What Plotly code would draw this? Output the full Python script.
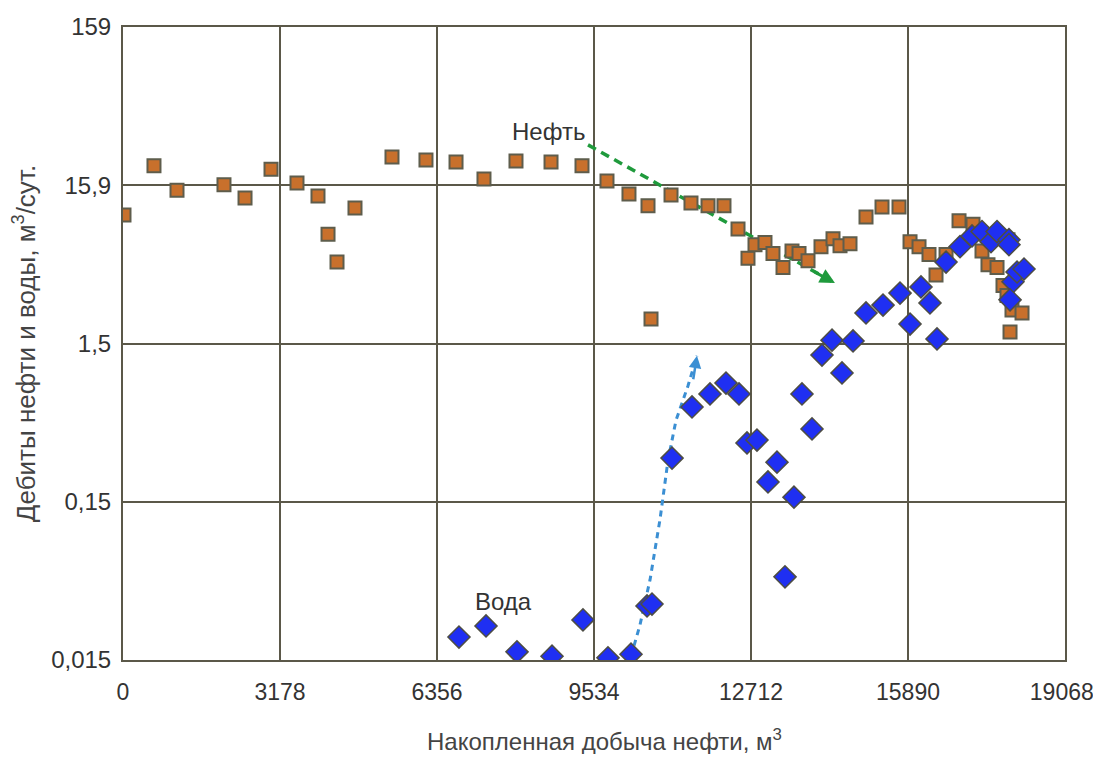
import numpy as np
import plotly.graph_objects as go

# Oil (Нефть) — cumulative production, m3 / rate, m3/day
oil_x = [20, 627, 1093, 2044, 2470, 2996, 3522, 3947, 4150, 4332, 4696, 5445, 6133, 6741,
         7307, 7955, 8664, 9291, 9797, 10242, 10627, 10688, 11093, 11497, 11842, 12165,
         12449, 12651, 12793, 12995, 13157, 13360, 13542, 13684, 13866, 14129, 14372,
         14514, 14716, 15040, 15364, 15708, 15931, 16113, 16315, 16457, 16660, 16923,
         17206, 17388, 17509, 17692, 17914, 17813, 17894, 17955, 17995, 18198]
oil_y = [10.3, 21.1, 14.8, 16.0, 13.2, 20.1, 16.4, 13.6, 7.8, 5.2, 11.4, 24.0, 23.0, 22.3,
         17.4, 22.6, 22.3, 21.1, 16.9, 14.0, 11.8, 2.27, 13.8, 12.3, 11.8, 11.8,
         8.4, 5.5, 6.7, 6.9, 5.9, 4.8, 6.1, 5.9, 5.3, 6.5, 7.3,
         6.6, 6.8, 10.0, 11.6, 11.6, 7.0, 6.5, 5.8, 4.3, 5.8, 9.5,
         9.0, 6.1, 5.0, 4.8, 7.2, 3.7, 3.2, 1.88, 2.59, 2.48]

# Water (Вода)
water_x = [6801, 7348, 7975, 8684, 9311, 9817, 10283, 10607, 10708, 11113, 11518, 11882,
           12206, 12469, 12631, 12833, 13056, 13238, 13400, 13582, 13744, 13947, 14149,
           14352, 14554, 14777, 15040, 15384, 15728, 15931, 16153, 16335, 16477, 16660,
           16943, 17186, 17388, 17570, 17692, 17934, 17934, 18015, 18097, 18238, 17955]
water_y = [0.0222, 0.0261, 0.0179, 0.0168, 0.0285, 0.0164, 0.0173, 0.0349, 0.0359, 0.300,
           0.632, 0.763, 0.894, 0.763, 0.374, 0.390, 0.212, 0.283, 0.0533, 0.170, 0.763,
           0.459, 1.344, 1.67, 1.036, 1.65, 2.48, 2.78, 3.31, 2.11, 3.62, 2.87, 1.70, 5.2,
           6.5, 7.6, 8.1, 7.0, 8.1, 7.2, 6.7, 3.9, 4.5, 4.7, 3.0]

# Trend arrows (annotation paths)
oil_arrow_x = [9413, 14412]
oil_arrow_y = [28.6, 3.83]
water_arrow_x = [10283, 10465, 10668, 10870, 11032, 11194, 11437, 11619]
water_arrow_y = [0.0168, 0.0265, 0.051, 0.123, 0.29, 0.52, 0.86, 1.33]

# Series labels
label_text = ["Нефть", "Вода"]
label_x = [8603, 7692]
label_y = [35.0, 0.037]

x_ticks = [0, 3178, 6356, 9534, 12712, 15890, 19068]
x_ticktext = ["0", "3178", "6356", "9534", "12712", "15890", "19068\u00a0"]
y_tickvals = [0.0159, 0.159, 1.59, 15.9, 159]
y_ticktext = ["0,015", "0,15", "1,5", "15,9", "159"]

FONT = "Liberation Sans Narrow, Arial Narrow, sans-serif"
GRID = "#5b5849"
FS = 24

fig = go.Figure()

fig.add_trace(go.Scatter(x=water_arrow_x, y=water_arrow_y, mode="lines",
                         line=dict(color="#3b8fd3", width=3, dash="6px,5px"),
                         hoverinfo="skip", showlegend=False))
fig.add_trace(go.Scatter(x=oil_arrow_x, y=oil_arrow_y, mode="lines",
                         line=dict(color="#1f9a3c", width=3.5, dash="9px,6px"),
                         hoverinfo="skip", showlegend=False))

fig.add_trace(go.Scatter(x=oil_x, y=oil_y, mode="markers", name="Нефть",
                         marker=dict(symbol="square", size=13, color="#c8702c",
                                     line=dict(color="#5e5d4c", width=2)),
                         showlegend=False))
fig.add_trace(go.Scatter(x=water_x, y=water_y, mode="markers", name="Вода",
                         marker=dict(symbol="diamond", size=17, color="#1f2ff2",
                                     line=dict(color="#4d4d45", width=1.5)),
                         showlegend=False))

# arrowheads
fig.add_annotation(x=oil_arrow_x[1], y=np.log10(oil_arrow_y[1]), ax=-22, ay=-12,
                   xref="x", yref="y", showarrow=True, arrowhead=2, arrowsize=1,
                   arrowwidth=3, arrowcolor="#1f9a3c", text="")
fig.add_annotation(x=water_arrow_x[-1], y=np.log10(water_arrow_y[-1]), ax=-4, ay=25,
                   xref="x", yref="y", showarrow=True, arrowhead=2, arrowsize=1,
                   arrowwidth=2.5, arrowcolor="#3b8fd3", text="")

for t, lx, ly in zip(label_text, label_x, label_y):
    fig.add_annotation(x=lx, y=np.log10(ly), xref="x", yref="y", text=t,
                       showarrow=False, font=dict(family=FONT, size=FS, color="#333333"))

# x-axis title as annotation (slightly right of plot centre, as in the reference)
fig.add_annotation(x=0.5115, y=-0.126, xref="paper", yref="paper", yanchor="middle",
                   text="Накопленная добыча нефти, м<sup>3</sup>", showarrow=False,
                   font=dict(family=FONT, size=FS, color="#444444"))

fig.update_xaxes(range=[0, 19068], tickvals=x_ticks, ticktext=x_ticktext,
                 showgrid=True, gridcolor=GRID, gridwidth=1.5, zeroline=False,
                 showline=True, linecolor=GRID, linewidth=2, mirror=True,
                 ticks="", ticklabelstandoff=10, ticklabeloverflow="allow",
                 tickfont=dict(family=FONT, size=23, color="#333333"))
fig.update_yaxes(type="log", range=[np.log10(0.0159), np.log10(159)],
                 tickvals=y_tickvals, ticktext=y_ticktext,
                 showgrid=True, gridcolor=GRID, gridwidth=1.5, zeroline=False,
                 showline=True, linecolor=GRID, linewidth=2, mirror=True,
                 ticks="", ticklabelstandoff=5, ticklabeloverflow="allow",
                 tickfont=dict(family=FONT, size=FS, color="#333333"),
                 title=dict(text="Дебиты нефти и воды, м<sup>3</sup>/сут.",
                            font=dict(family=FONT, size=26, color="#444444"), standoff=30))

fig.update_layout(width=1093, height=746, plot_bgcolor="white", paper_bgcolor="white",
                  margin=dict(l=115, r=36, t=19, b=94, autoexpand=False), showlegend=False)

fig.write_html("out.html")
